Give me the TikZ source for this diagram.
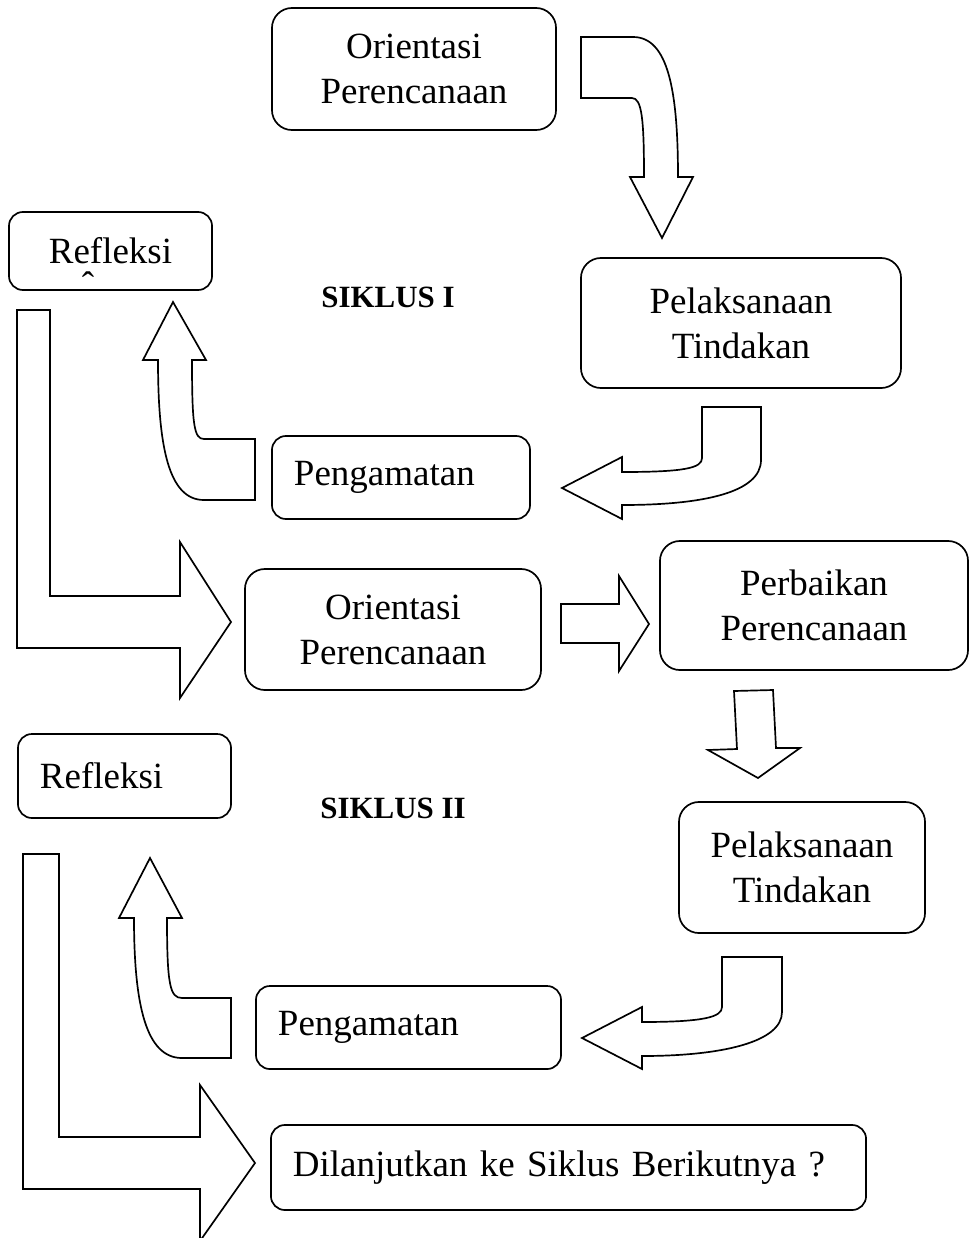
\documentclass[tikz,border=0pt]{standalone}
\usepackage{fontspec}
\setmainfont{Liberation Serif}
\usepackage{tikz}
\usetikzlibrary{positioning,calc}

\tikzset{
    box/.style={draw, line width=1.2pt, rounded corners=0.5cm, align=center,
        font=\fontsize{26.3}{32}\selectfont},
    smallbox/.style={box, rounded corners=0.35cm},
    lbox/.style={inner xsep=0.55cm, align=left},
    blockarrow/.style={draw, line width=1.2pt, fill=white, line join=miter},
    cycletitle/.style={font=\fontsize{22}{26}\bfseries}
}

\begin{document}
\begin{tikzpicture}[x=0.025cm, y=-0.025cm]
    \useasboundingbox (0,0) rectangle (969,1238);

    % Siklus I
    \node[box, minimum width=7.1cm, minimum height=3.05cm] (orient1) at (414,69) {Orientasi\\Perencanaan};
    \node[box, minimum width=8cm, minimum height=3.25cm] (laksana1) at (741,323) {Pelaksanaan\\Tindakan};
    \node[smallbox, lbox, text width=5.35cm, minimum height=2.075cm] (amat1) at (401,477.5) {Pengamatan};
    \node[smallbox, minimum width=5.075cm, minimum height=1.95cm] (refleksi1) at (110.5,251) {Refleksi};
    \node[font=\fontsize{26.3}{32}\selectfont, inner sep=0pt] (caret) at (88,285) {ˆ};
    \node[cycletitle] (siklus1) at (388,297) {SIKLUS I};

    % orient1 -> laksana1
    \draw[blockarrow] (581,37) -- (633,37) .. controls (668,37) and (678,90) .. (678,177)
        -- (693,177) -- (662,238) -- (630,177) -- (644,177)
        .. controls (644,120) and (642,98) .. (632,98) -- (581,98) -- cycle;
    % laksana1 -> amat1
    \draw[blockarrow] (702,407) -- (761,407) -- (761,460) .. controls (761,492) and (705,505) .. (622,505)
        -- (622,519) -- (562,488) -- (622,457) -- (622,472)
        .. controls (685,472) and (702,468) .. (702,458) -- cycle;
    % amat1 -> refleksi1
    \draw[blockarrow] (173,302) -- (206,360) -- (192,360) .. controls (192,425) and (194,439) .. (204,439)
        -- (255,439) -- (255,500) -- (204,500)
        .. controls (168,500) and (158,445) .. (158,360) -- (143,360) -- cycle;
    % refleksi1 -> orient2
    \draw[blockarrow] (17,310) -- (50,310) -- (50,596) -- (180,596) -- (180,542) -- (231,622)
        -- (180,698) -- (180,648) -- (17,648) -- cycle;

    % Siklus II
    \node[box, minimum width=7.4cm, minimum height=3.025cm] (orient2) at (393,629.5) {Orientasi\\Perencanaan};
    \node[box, minimum width=7.7cm, minimum height=3.225cm] (perbaikan) at (814,605.5) {Perbaikan\\Perencanaan};
    \node[box, minimum width=6.15cm, minimum height=3.275cm] (laksana2) at (802,867.5) {Pelaksanaan\\Tindakan};
    \node[smallbox, lbox, text width=6.525cm, minimum height=2.075cm] (amat2) at (408.5,1027.5) {Pengamatan};
    \node[smallbox, lbox, text width=4.225cm, minimum height=2.1cm] (refleksi2) at (124.5,776) {Refleksi};
    \node[cycletitle] (siklus2) at (393,808) {SIKLUS II};
    \node[smallbox, lbox, text width=13.775cm, minimum height=2.125cm] (lanjut) at (568.5,1167.5) {Dilanjutkan ke Siklus Berikutnya ?};

    % orient2 -> perbaikan
    \draw[blockarrow] (561,604) -- (619,604) -- (619,576) -- (649,624) -- (619,671) -- (619,643) -- (561,643) -- cycle;
    % perbaikan -> laksana2
    \draw[blockarrow] (734,691) -- (773,690) -- (776,748) -- (800,748) -- (758,778) -- (708,750) -- (737,749) -- cycle;
    % laksana2 -> amat2
    \draw[blockarrow] (722,957) -- (782,957) -- (782,1012) .. controls (782,1042) and (722,1056) .. (642,1056)
        -- (642,1069) -- (582,1038) -- (642,1007) -- (642,1022)
        .. controls (704,1022) and (722,1017) .. (722,1007) -- cycle;
    % amat2 -> refleksi2
    \draw[blockarrow] (150,858) -- (182,918) -- (167,918) .. controls (167,985) and (170,998) .. (182,998)
        -- (231,998) -- (231,1058) -- (182,1058)
        .. controls (146,1058) and (134,1005) .. (134,918) -- (119,918) -- cycle;
    % refleksi2 -> lanjut
    \draw[blockarrow] (23,854) -- (59,854) -- (59,1137) -- (200,1137) -- (200,1085) -- (255,1163)
        -- (200,1241) -- (200,1189) -- (23,1189) -- cycle;
\end{tikzpicture}
\end{document}
